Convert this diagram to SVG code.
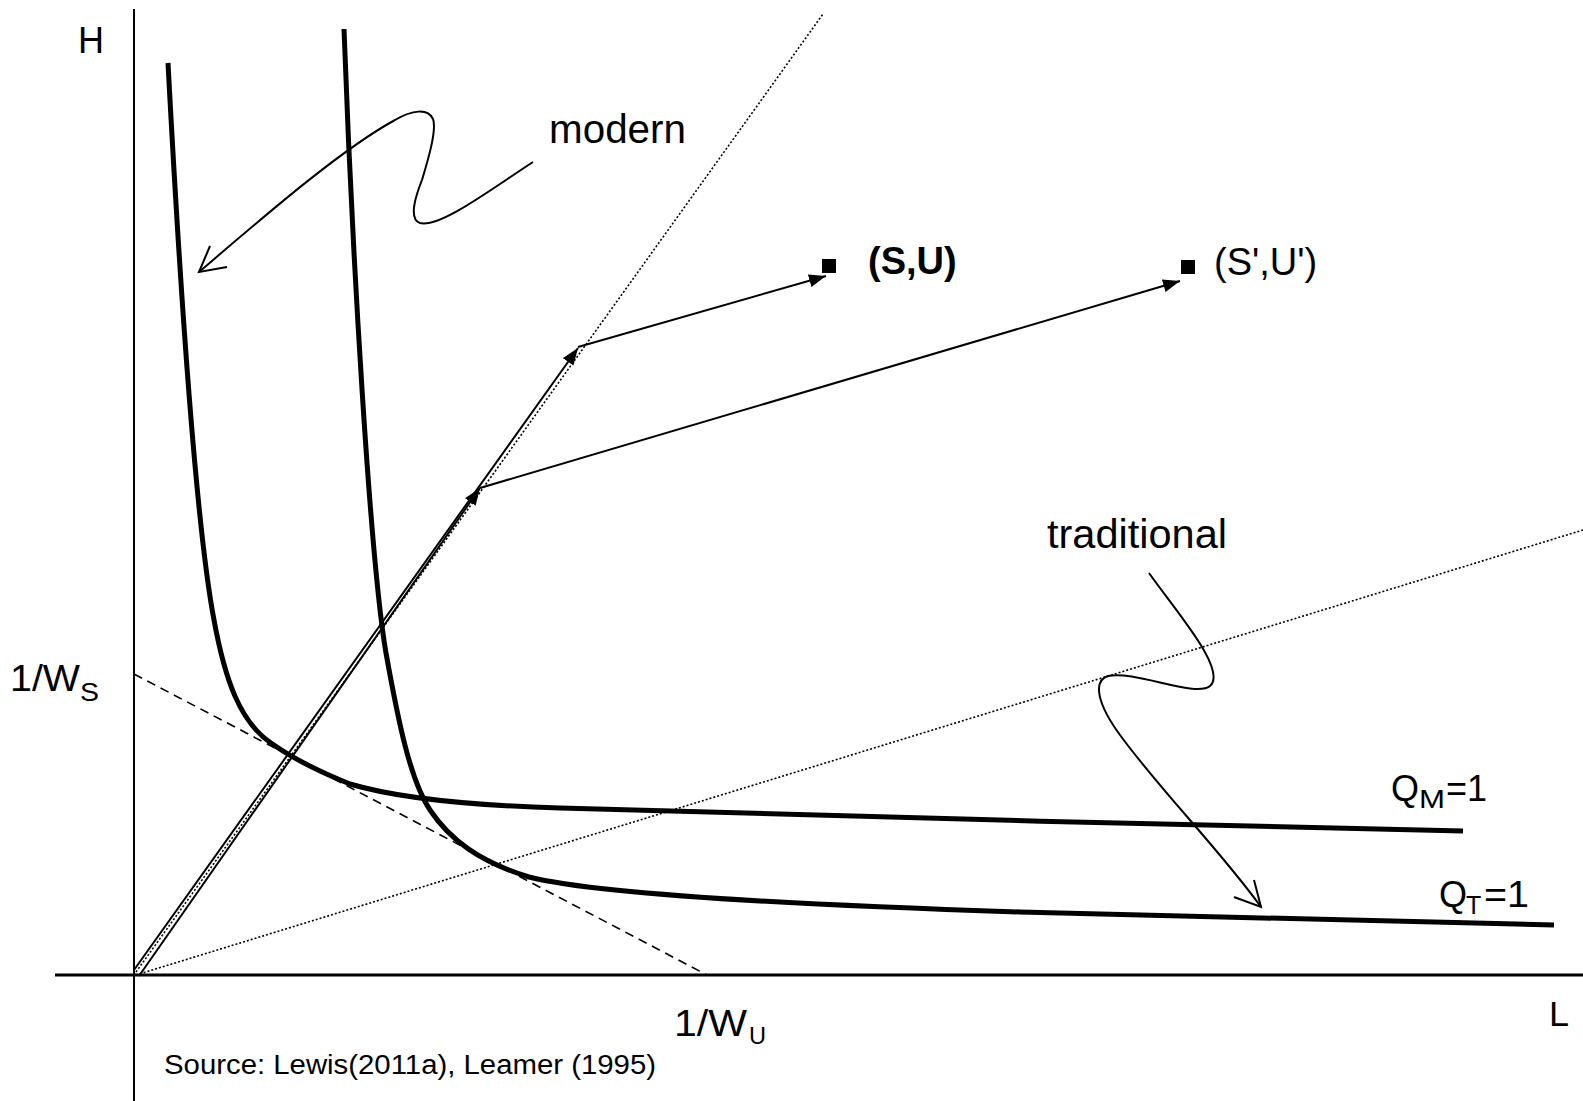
<svg xmlns="http://www.w3.org/2000/svg" width="1583" height="1101" viewBox="0 0 1583 1101">
<style>
.t{font-family:"Liberation Sans",Arial,sans-serif;fill:#000}
.c{font-family:"Liberation Sans",Arial,sans-serif;fill:#000}
.curve{fill:none;stroke:#000;stroke-width:5;stroke-linejoin:round}
.ln{fill:none;stroke:#000;stroke-width:2}
.dot{fill:none;stroke:#000;stroke-width:1.6;stroke-dasharray:2 2}
.dash{fill:none;stroke:#000;stroke-width:1.6;stroke-dasharray:9 6}
</style>
<defs>
<marker id="ah" markerUnits="userSpaceOnUse" markerWidth="20" markerHeight="16" refX="17" refY="6.5" orient="auto">
<path d="M0,0 L17,6.5 L0,13 Z" fill="#000"/>
</marker>
</defs>
<rect width="1583" height="1101" fill="#fff"/>
<g id="axes">
<line x1="134" y1="9" x2="134" y2="1101" stroke="#000" stroke-width="2"/>
<line x1="55" y1="975" x2="1583" y2="975" stroke="#000" stroke-width="3"/>
<text class="c" x="78" y="53" font-size="36" textLength="26" lengthAdjust="spacingAndGlyphs">H</text>
<text class="c" x="1549" y="1026" font-size="35" textLength="20" lengthAdjust="spacingAndGlyphs">L</text>
<text class="c" x="10" y="691" font-size="37" textLength="70" lengthAdjust="spacingAndGlyphs">1/W</text>
<text class="c" x="80" y="701" font-size="25" textLength="19" lengthAdjust="spacingAndGlyphs">S</text>
<text class="c" x="674" y="1036" font-size="36" textLength="73" lengthAdjust="spacingAndGlyphs">1/W</text>
<text class="c" x="749" y="1044" font-size="24" textLength="17" lengthAdjust="spacingAndGlyphs">U</text>
<text class="t" x="164" y="1074" font-size="27" textLength="492" lengthAdjust="spacingAndGlyphs">Source: Lewis(2011a), Leamer (1995)</text>
</g>
<g id="rays">
<line class="dot" x1="136" y1="972" x2="823" y2="14"/>
<line class="dot" x1="136" y1="975" x2="1583" y2="530"/>
<line class="dash" x1="134" y1="674" x2="707" y2="975"/>
</g>
<g id="qm-curve">
<path class="curve" d="M168,63 C178,250 195,520 214,620 C225,680 240,722 271,743 C292,758 320,772 350,784 C380,793 440,804.5 560,808 C800,815 1200,826 1463,831"/>
<text class="t" x="1391" y="801" font-size="36">Q</text>
<text class="t" x="1419" y="808" font-size="25" textLength="26" lengthAdjust="spacingAndGlyphs">M</text>
<text class="t" x="1446" y="801" font-size="36">=1</text>
</g>
<g id="qt-curve">
<path class="curve" d="M344,29 C352,250 370,560 386,653 C398,720 410,780 430,810 C450,840 480,862 529,877 C600,895 800,905 1020,912 L1554,925"/>
<text class="t" x="1439" y="907" font-size="36">Q</text>
<text class="t" x="1466" y="914" font-size="25">T</text>
<text class="t" x="1484" y="907" font-size="36" textLength="45" lengthAdjust="spacingAndGlyphs">=1</text>
</g>
<g id="su">
<rect x="822" y="259" width="14" height="14" fill="#000"/>
<text class="t" x="868" y="274" font-size="38" font-weight="bold">(S,U)</text>
</g>
<g id="su-prime">
<rect x="1181" y="260" width="14" height="14" fill="#000"/>
<text class="t" x="1214" y="275" font-size="38">(S',U')</text>
</g>
<g id="modern-label">
<text class="t" x="549" y="143" font-size="40" textLength="137" lengthAdjust="spacingAndGlyphs">modern</text>
<path class="ln" stroke-width="1.8" d="M533,162 C490,190 440,228 420,223 C408,219 416,195 422,180 C428,160 437,130 433,119 C428,108 412,110 395,120 C340,150 260,220 199,272"/>
<path class="ln" stroke-width="1.8" d="M210,246 L199,272 L227,267"/>
</g>
<g id="traditional-label">
<text class="t" x="1047" y="548" font-size="40" textLength="180" lengthAdjust="spacingAndGlyphs">traditional</text>
<path class="ln" stroke-width="1.8" d="M1149,573 C1175,610 1228,670 1210,686 C1195,698 1135,670 1108,676 C1092,681 1098,705 1120,735 C1160,790 1220,850 1261,907"/>
<path class="ln" stroke-width="1.8" d="M1234,897 L1261,907 L1254,880"/>
</g>
<g id="connectors">
<line class="ln" x1="134" y1="970" x2="578" y2="348" marker-end="url(#ah)"/>
<line class="ln" x1="139" y1="976" x2="480" y2="488" marker-end="url(#ah)"/>
<line class="ln" x1="578" y1="347" x2="826" y2="276" marker-end="url(#ah)"/>
<line class="ln" x1="480" y1="488" x2="1180" y2="281" marker-end="url(#ah)"/>
</g>
</svg>
